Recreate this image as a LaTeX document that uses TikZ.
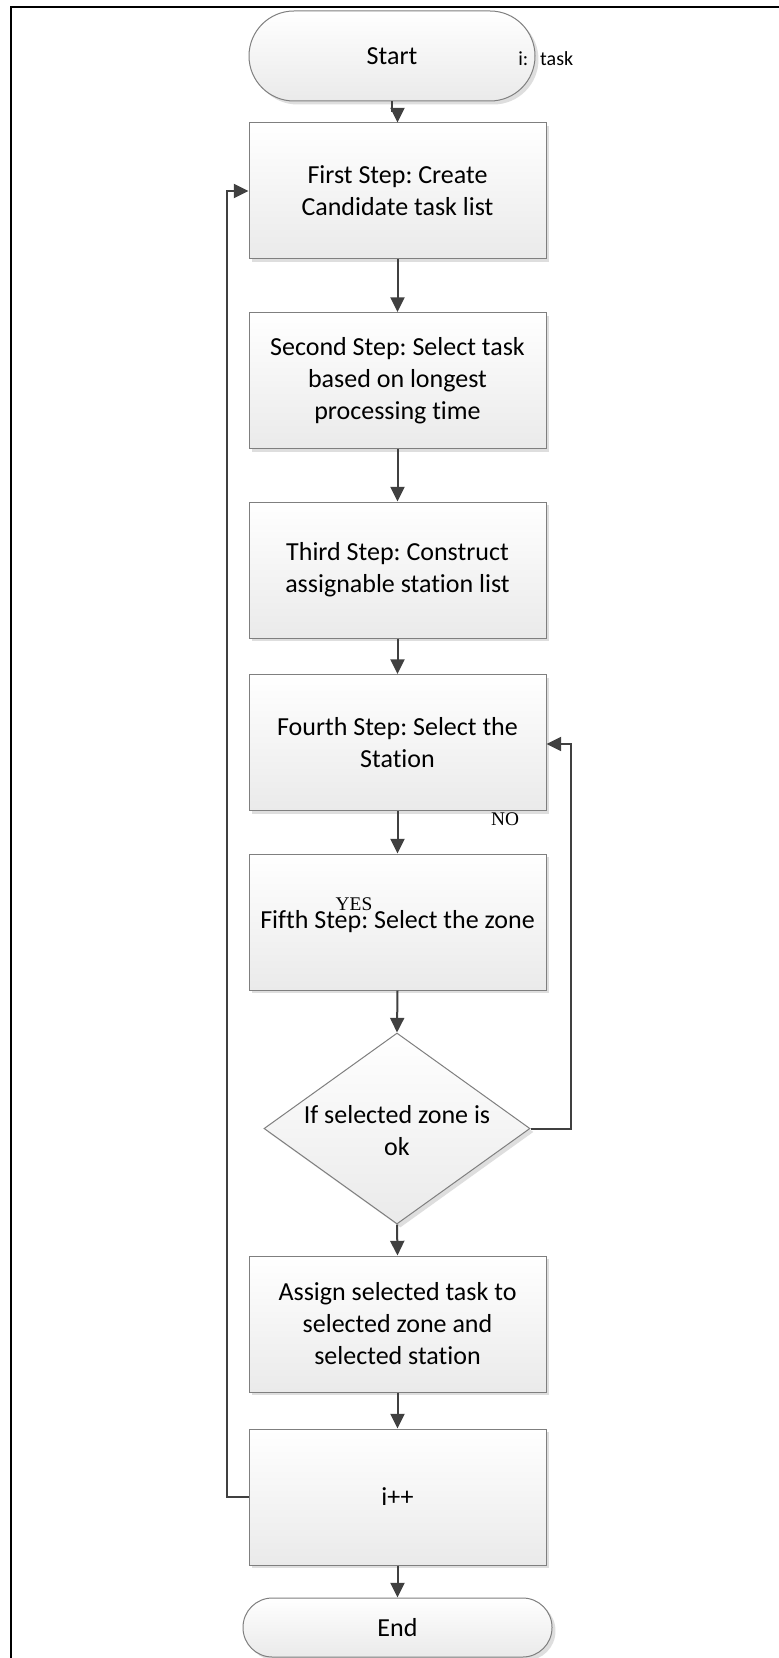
\documentclass[tikz,border=0pt]{standalone}
\usepackage{fontspec}
\setmainfont{Carlito}[Ligatures={NoCommon,NoRequired,NoContextual}]
\newfontfamily\labelserif{Liberation Serif}
\usetikzlibrary{shapes.geometric,arrows.meta,shadows}
\frenchspacing

\definecolor{linegray}{HTML}{404040}
\definecolor{edgegray}{HTML}{7F7F7F}
\definecolor{shadegray}{HTML}{EAEAEA}

\tikzset{
  boxshadow/.style={drop shadow={shadow xshift=2.6pt, shadow yshift=-2.6pt, fill=black!13, opacity=1}},
  shaded/.style={draw=edgegray, line width=0.75pt, top color=white, bottom color=shadegray, boxshadow},
  flowbox/.style={shaded, rectangle, minimum width=222.75pt, minimum height=102pt,
    align=center, inner sep=0pt, font=\fontsize{19.5}{24}\selectfont},
  terminal/.style={shaded, rectangle, align=center, inner sep=0pt,
    font=\fontsize{19.5}{24}\selectfont},
  decision/.style={shaded, diamond, minimum width=199.5pt, minimum height=143.25pt, inner sep=0pt},
  plain/.style={align=center, inner sep=0pt, font=\fontsize{19.5}{24}\selectfont},
  note/.style={inner sep=0pt, font=\fontsize{15}{18}\selectfont},
  answer/.style={inner sep=0pt, font=\labelserif\fontsize{14.5}{17}\selectfont},
  conn/.style={draw=linegray, line width=1.5pt, -{Triangle[length=11pt,width=10.5pt]}},
  frame/.style={draw=black, line width=1.6pt}
}

\begin{document}
\begin{tikzpicture}[x=0.75pt,y=-0.75pt]
\useasboundingbox (0,0) rectangle (778,1658);
\fill[white] (0,0) rectangle (778,1658);

% page frame (top and left edges)
\draw[frame] (11,1660) -- (11,7) -- (780,7);

% terminals
\node[terminal, minimum width=214.5pt, minimum height=67.5pt, rounded corners=33.7pt] (start) at (392,56) {Start};
\node[terminal, minimum width=231.75pt, minimum height=44.25pt, rounded corners=22pt] (end) at (397.5,1627.5) {End};

% process steps
\node[flowbox] (box1) at (397.5,191) {First Step: Create\\Candidate task list};
\node[flowbox] (box2) at (397.5,380.5) {Second Step: Select task\\based on longest\\processing time};
\node[flowbox] (box3) at (397.5,570) {Third Step: Construct\\assignable station list};
\node[flowbox] (box4) at (397.5,742.5) {Fourth Step: Select the\\Station};
\node[flowbox] (box5) at (397.5,922) {Fifth Step: Select the zone};
\node[decision] (dec) at (397,1128.5) {};
\node[plain] (dectext) at (397,1131) {If selected zone is\\ok};
\node[flowbox] (box6) at (397.5,1324) {Assign selected task to\\selected zone and\\selected station};
\node[flowbox] (box7) at (397.5,1497) {i++};

% annotations
\node[note, anchor=base west] (itask) at (518,65.5) {i:\hspace{9pt}task};
\node[answer] (no) at (505,819.5) {NO};
\node[answer] (yes) at (354,904.5) {YES};

% connectors
\draw[conn] (start.south) -- ++(0,10) -| (box1.north);
\draw[conn] (box1.south) -- (box2.north);
\draw[conn] (box2.south) -- (box3.north);
\draw[conn] (box3.south) -- (box4.north);
\draw[conn] (box4.south) -- (box5.north);
\draw[conn] (box5.south) -- (dec.north);
\draw[conn] (dec.south) -- (box6.north);
\draw[conn] (box6.south) -- (box7.north);
\draw[conn] (box7.south) -- (end.north);
\draw[conn] (dec.east) -- ++(40,0) |- ([yshift=-1.1pt]box4.east);
\draw[conn] (box7.west) -- ++(-22,0) |- (box1.west);
\end{tikzpicture}
\end{document}
